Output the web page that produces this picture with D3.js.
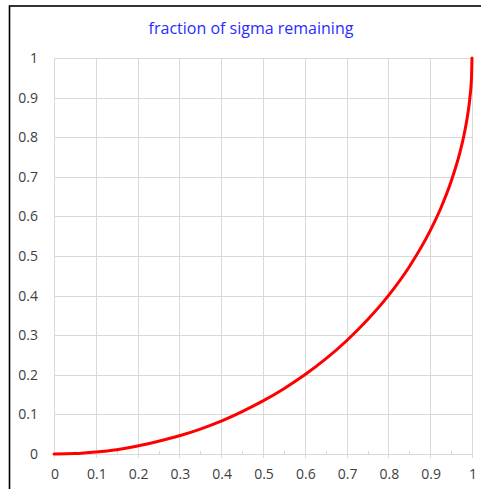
<!DOCTYPE html>
<html><head><meta charset="utf-8">
<script src="https://cdn.jsdelivr.net/npm/d3@7"></script>
<style>body{margin:0;background:#fff}svg{display:block}</style>
</head><body>
<script>
const title = "fraction of sigma remaining";
const xValues = [0, 0.05, 0.1, 0.15, 0.2, 0.25, 0.3, 0.35, 0.4, 0.45, 0.5, 0.55, 0.6, 0.65, 0.7, 0.75, 0.8, 0.85, 0.9, 0.925, 0.95, 0.97, 0.98, 0.99, 0.995, 0.999, 1];
const yValues = [0, 0.001, 0.005, 0.011, 0.020, 0.032, 0.046, 0.063, 0.083, 0.107, 0.134, 0.165, 0.200, 0.240, 0.286, 0.339, 0.400, 0.473, 0.564, 0.620, 0.688, 0.757, 0.801, 0.859, 0.900, 0.955, 1.0];
const xTicks = [0, 0.1, 0.2, 0.3, 0.4, 0.5, 0.6, 0.7, 0.8, 0.9, 1];
const yTicks = [0, 0.1, 0.2, 0.3, 0.4, 0.5, 0.6, 0.7, 0.8, 0.9, 1];
const xMinor = [0.05, 0.15, 0.25, 0.35, 0.45, 0.55, 0.65, 0.75, 0.85, 0.95];

const W = 481, H = 489;
const svg = d3.select("body").append("svg").attr("width", W).attr("height", H);
const x = d3.scaleLinear().domain([0, 1]).range([54, 472]);
const y = d3.scaleLinear().domain([0, 1]).range([454, 58]);
const grid = "#d9d9d9";
const font = "'Open Sans', 'Noto Sans', sans-serif";

// frame
svg.append("rect").attr("x", 9.5).attr("y", 6).attr("width", 480).attr("height", 490)
  .attr("fill", "#fff").attr("stroke", "#000").attr("stroke-width", 1.6);

// title
svg.append("text").attr("x", 251).attr("y", 34).attr("text-anchor", "middle")
  .attr("font-family", font).attr("font-size", 16).attr("fill", "#2b2bff").text(title);

// horizontal grid
svg.append("g").selectAll("line").data(yTicks.filter(d => d > 0)).join("line")
  .attr("x1", x(0)).attr("x2", x(1)).attr("y1", d => Math.round(y(d)) + 0.5).attr("y2", d => Math.round(y(d)) + 0.5)
  .attr("stroke", grid).attr("stroke-width", 1);
// vertical grid (extends below axis as tick)
svg.append("g").selectAll("line").data(xTicks).join("line")
  .attr("x1", d => Math.round(x(d)) + 0.5).attr("x2", d => Math.round(x(d)) + 0.5)
  .attr("y1", y(1)).attr("y2", y(0) + 4)
  .attr("stroke", grid).attr("stroke-width", 1);
// x axis line
svg.append("line").attr("x1", x(0)).attr("x2", x(1)).attr("y1", y(0) + 0.5).attr("y2", y(0) + 0.5)
  .attr("stroke", grid).attr("stroke-width", 1);
// minor ticks
svg.append("g").selectAll("line").data(xMinor).join("line")
  .attr("x1", d => Math.round(x(d)) + 0.5).attr("x2", d => Math.round(x(d)) + 0.5)
  .attr("y1", y(0) - 3).attr("y2", y(0))
  .attr("stroke", grid).attr("stroke-width", 1);

// y labels
svg.append("g").selectAll("text").data(yTicks).join("text")
  .attr("x", 38).attr("y", d => y(d)).attr("dy", "0.35em").attr("text-anchor", "end")
  .attr("font-family", font).attr("font-size", 14).attr("fill", "#404040")
  .text(d => d3.format("")(d));
// x labels
svg.append("g").selectAll("text").data(xTicks).join("text")
  .attr("x", d => x(d) + 1).attr("y", 479).attr("text-anchor", "middle")
  .attr("font-family", font).attr("font-size", 14).attr("fill", "#404040")
  .text(d => d3.format("")(d));

// curve
const pts = xValues.map((v, i) => [v, yValues[i]]);
svg.append("path").datum(pts)
  .attr("d", d3.line().x(d => x(d[0])).y(d => y(d[1])).curve(d3.curveMonotoneX))
  .attr("fill", "none").attr("stroke", "#ff0000").attr("stroke-width", 3).attr("stroke-linecap", "round");
</script>
</body></html>
